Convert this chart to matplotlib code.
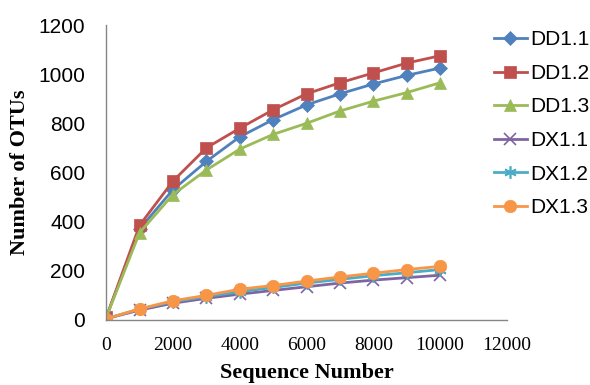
import numpy as np
import matplotlib
matplotlib.use("Agg")
import matplotlib.pyplot as plt

# sequence depth and OTU counts per sample
seq = [0, 1000, 2000, 3000, 4000, 5000, 6000, 7000, 8000, 9000, 10000]
dd11 = [10, 370, 530, 645, 745, 815, 875, 920, 960, 995, 1025]
dd12 = [10, 385, 565, 700, 780, 855, 920, 965, 1005, 1045, 1075]
dd13 = [10, 355, 510, 610, 695, 755, 800, 850, 890, 925, 965]
dx11 = [5, 40, 68, 88, 105, 120, 135, 150, 162, 172, 182]
dx12 = [5, 44, 74, 95, 115, 132, 150, 165, 180, 192, 205]
dx13 = [5, 45, 78, 100, 125, 140, 158, 175, 190, 205, 218]

names = ["DD1.1", "DD1.2", "DD1.3", "DX1.1", "DX1.2", "DX1.3"]
xticks = [0, 2000, 4000, 6000, 8000, 10000, 12000]
yticks = [0, 200, 400, 600, 800, 1000, 1200]

fig = plt.figure(figsize=(5.9, 3.85), dpi=100)
ax = fig.add_axes([0.18, 0.169, 0.679, 0.766])

styles = [
    ("#4F81BD", "D", 7),
    ("#C0504D", "s", 8),
    ("#9BBB59", "^", 9),
    ("#8064A2", "x", 8),
    ("#4BACC6", (6, 2, 0), 9),   # asterisk
    ("#F79646", "o", 9),
]
series = [dd11, dd12, dd13, dx11, dx12, dx13]

for ys, name, (c, m, ms) in zip(series, names, styles):
    thin = isinstance(m, tuple) or m == "x"
    ax.plot(seq, ys, color=c, marker=m, markersize=ms, linewidth=2,
            markeredgewidth=1.2 if thin else 0.5, label=name)

ax.set_xlim(0, 12000)
ax.set_ylim(0, 1200)
ax.set_xticks(xticks)
ax.set_yticks(yticks)
ax.set_xticklabels([str(t) for t in xticks], family="Liberation Serif", fontsize=14)
ax.set_yticklabels([str(t) for t in yticks], family="Liberation Sans", fontsize=15)
ax.tick_params(axis="x", length=0, pad=12)
ax.tick_params(axis="y", length=0, pad=15)

for s in ["top", "right"]:
    ax.spines[s].set_visible(False)
for s in ["left", "bottom"]:
    ax.spines[s].set_color("#868686")
    ax.spines[s].set_linewidth(1)

ax.set_xlabel("Sequence Number", family="Liberation Serif", fontweight="bold",
              fontsize=16, labelpad=7)
ax.set_ylabel("Number of OTUs", family="Liberation Serif", fontweight="bold",
              fontsize=16, labelpad=6)

fig.legend(loc="upper left", bbox_to_anchor=(0.805, 0.97), frameon=False,
           prop={"family": "Liberation Sans", "size": 15},
           handlelength=1.6, handletextpad=0.15, labelspacing=0.7)

fig.savefig("out.png", dpi=100)
